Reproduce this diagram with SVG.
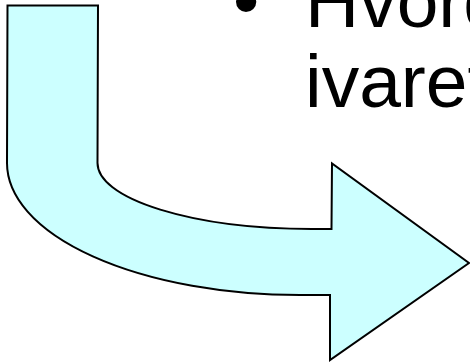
<svg xmlns="http://www.w3.org/2000/svg" width="470" height="363" viewBox="0 0 470 363">
<style>
.arrow{fill:#CCFFFF;stroke:#000;stroke-width:2;stroke-linejoin:miter}
.t{font-family:"Liberation Sans",Arial,sans-serif;font-size:75px;fill:#000}
</style>
<rect width="470" height="363" fill="#fff"/>
<g id="bent-arrow">
<path class="arrow" d="M7.5,5.5 L98,5.5 L97.5,163 A215,66 0 0 0 312,229 L331.5,229 L332,163.5 L469,263 L330,360 L330,295 L300,295 A293,132 0 0 1 7,163 Z"/>
</g>
<g id="text">
<text class="t" x="233" y="27">•</text>
<text class="t" x="305" y="27">Hvord</text>
<text class="t" x="305" y="107">ivaret</text>
</g>
</svg>
